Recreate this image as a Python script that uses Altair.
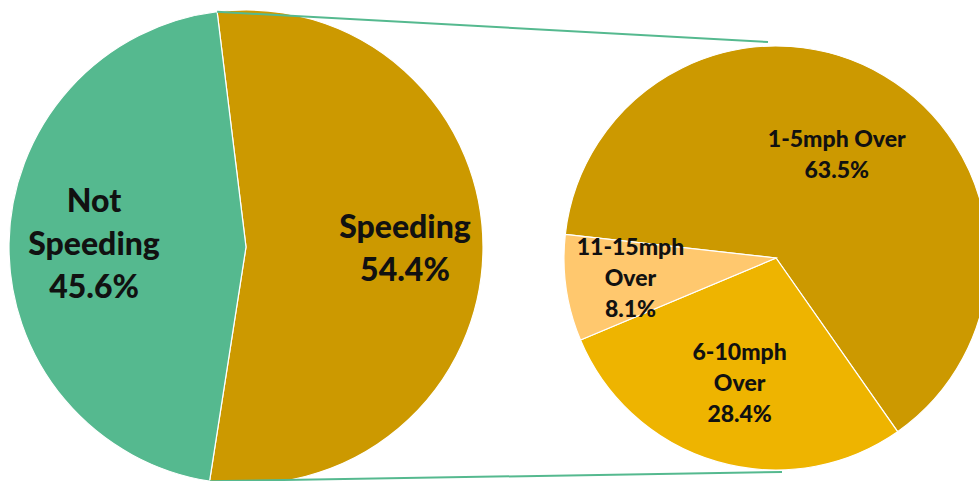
import math
import altair as alt
import pandas as pd

# ---- data ----
main_cats = ["Speeding", "Not Speeding"]
main_vals = [54.4, 45.6]
main_labels = ["Speeding", "Not\nSpeeding"]
main_colors = ["#CC9900", "#55B98F"]

sub_cats = ["1-5mph Over", "6-10mph Over", "11-15mph Over"]
sub_vals = [63.5, 28.4, 8.1]
sub_labels = ["1-5mph Over", "6-10mph\nOver", "11-15mph\nOver"]
sub_colors = ["#CC9900", "#EEB400", "#FFC86E"]

W, H = 979, 481
# geometry (layout)
L_CX, L_CY, L_R = 246, 247, 237
L_START = math.radians(-7.0)
R_CX, R_CY, R_R = 776, 258, 212
R_START = math.radians(-83.6)

FONT = "Lato"


def pie(cats, vals, labels, colors, cx, cy, r, start, label_r, fsize, lh):
    df = pd.DataFrame({"cat": cats, "val": vals, "lab": labels,
                       "ord": list(range(len(cats)))})
    total = float(sum(vals))
    tscale = alt.Scale(domain=[0, total], range=[start, start + 2 * math.pi])
    base = alt.Chart(df).transform_window(
        cum="sum(val)", sort=[alt.SortField("ord")],
        frame=[None, 0],
    ).transform_calculate(
        t0="datum.cum - datum.val",
        mid="datum.cum - datum.val / 2",
    )

    arcs = base.mark_arc(radius=r, stroke="white", strokeWidth=1.2).encode(
        x=alt.value(cx), y=alt.value(cy),
        theta=alt.Theta("t0:Q", scale=tscale, stack=None),
        theta2="cum:Q",
        color=alt.Color("cat:N", scale=alt.Scale(domain=cats, range=colors), legend=None),
    )
    expr = " : ".join(
        f"datum.cat == '{c}' ? {lr}" for c, lr in zip(cats[:-1], label_r[:-1])
    ) + f" : {label_r[-1]}"
    text = base.transform_calculate(
        txt="datum.lab + '\\n' + format(datum.val, '.1f') + '%'",
        lr=expr,
    ).transform_calculate(
        ang=f"{start} + 2 * PI * datum.mid / {total}",
        nl="length(split(datum.txt, '\\n'))",
    ).transform_calculate(
        px=f"{cx} + datum.lr * sin(datum.ang)",
        py=f"{cy} - datum.lr * cos(datum.ang) - (datum.nl - 1) * {lh} / 2",
    ).mark_text(
        font=FONT, fontWeight=900, fontSize=fsize, lineBreak="\n",
        lineHeight=lh, color="#111111", align="center", baseline="middle",
    ).encode(
        x=alt.X("px:Q", scale=None),
        y=alt.Y("py:Q", scale=None),
        text="txt:N",
    )
    return alt.layer(arcs, text)


left = pie(main_cats, main_vals, main_labels, main_colors, L_CX, L_CY, L_R, L_START,
           [159, 152], 32, 43)
right = pie(sub_cats, sub_vals, sub_labels, sub_colors, R_CX, R_CY, R_R, R_START,
            [119, 131, 147], 23, 31)

# connector lines: from the Speeding slice edges to the top / bottom of the second pie
sp_end = L_START + 2 * math.pi * main_vals[0] / sum(main_vals)
x1a = L_CX + L_R * math.sin(L_START)
y1a = L_CY - L_R * math.cos(L_START)
x1b = L_CX + L_R * math.sin(sp_end)
y1b = L_CY - L_R * math.cos(sp_end)

conn_df = pd.DataFrame({"k": [0]})
line_top = alt.Chart(conn_df).mark_rule(color="#55B98F", strokeWidth=2).encode(
    x=alt.value(x1a), y=alt.value(y1a), x2=alt.value(R_CX - 8), y2=alt.value(R_CY - 216)
)
line_bot = alt.Chart(conn_df).mark_rule(color="#55B98F", strokeWidth=2).encode(
    x=alt.value(x1b), y=alt.value(y1b), x2=alt.value(R_CX + 6), y2=alt.value(R_CY + 214)
)

chart = alt.layer(left, right, line_top, line_bot).resolve_scale(
    theta="independent", color="independent"
).properties(
    width=W, height=H, padding=0, autosize=alt.AutoSizeParams(type="none"),
    background="white",
).configure_view(stroke=None)

chart.save("out.html", embed_options={"renderer": "svg", "actions": False})
